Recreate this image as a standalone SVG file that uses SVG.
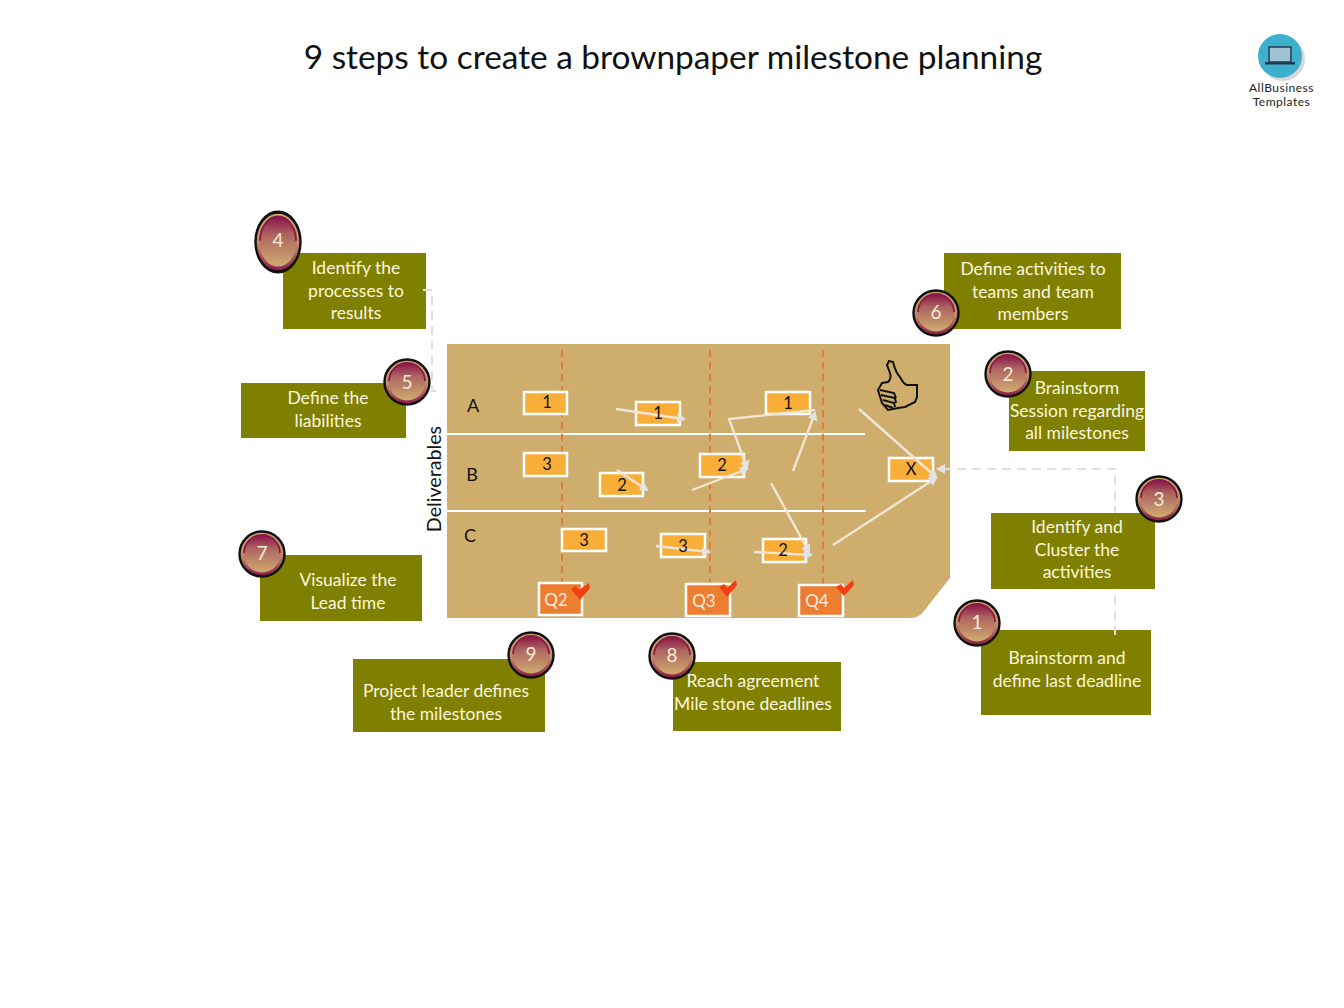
<svg xmlns="http://www.w3.org/2000/svg" width="1344" height="1008" viewBox="0 0 1344 1008">
<style>
text{font-family:Lato,"Noto Sans","Liberation Sans",sans-serif}
.t{font-size:17.5px;fill:#fbf6df;text-anchor:middle}
.box{fill:#808000}
.n{font-size:19px;fill:#f5ecd8;text-anchor:middle}
.o{fill:#f9ae38;stroke:#fff;stroke-width:2.500}
.q{fill:#ed7d31;stroke:#fff;stroke-width:2.500}
.k{font-size:16.5px;fill:#111;text-anchor:middle}
.qt{font-size:17px;fill:#fbeee0;text-anchor:middle}
.l{font-size:18px;fill:#111;text-anchor:middle}
.arc{fill:none;stroke:#8a1748;stroke-width:1.8}
.v{stroke:#db7f3f;stroke-width:2;stroke-dasharray:7 5;fill:none}
.w{stroke:#fff;stroke-width:2;fill:none}
.a{stroke:#f0e6d6;stroke-width:2.400;fill:none;marker-end:url(#ah)}
.d{stroke:#dfdfe2;stroke-width:2;stroke-dasharray:9 6;fill:none}
.c{fill:#f0400f}
</style>
<defs>
<linearGradient id="g" x1="0" y1="0" x2="0" y2="1">
<stop offset="0" stop-color="#8a1748"/><stop offset=".35" stop-color="#ad6460"/><stop offset="1" stop-color="#d0ac70"/>
</linearGradient>
<linearGradient id="r" x1="0" y1="0" x2="0" y2="1">
<stop offset="0" stop-color="#d0ac70"/><stop offset=".55" stop-color="#c08a68"/><stop offset="1" stop-color="#8a1748"/>
</linearGradient>
<marker id="ah" markerWidth="10" markerHeight="10" refX="7" refY="5" orient="auto" markerUnits="userSpaceOnUse"><path d="M0 0L9 5L0 10z" fill="#e3e3e6"/></marker>
<g id="badge">
<circle r="22.500" fill="url(#r)" stroke="#111" stroke-width="2.400"/>
<circle r="18.500" fill="url(#g)"/>
<path class="arc" d="M-18 -1A18 18 0 0 1 18 -1"/>
</g>
</defs>
<rect width="1344" height="1008" fill="#fff"/>
<text x="673" y="69" font-size="33.400" text-anchor="middle" fill="#111">9 steps to create a brownpaper milestone planning</text>

<g id="logo">
<circle cx="1283" cy="59" r="22" fill="#d5d8da"/>
<circle cx="1280" cy="56" r="22" fill="#3fb0cc"/>
<rect x="1269" y="47" width="22" height="15" fill="#9fc3d0" stroke="#1d3b4f" stroke-width="1.500"/>
<rect x="1265" y="62" width="30" height="2.500" fill="#1d3b4f"/>
<text x="1281.500" y="91.500" font-size="12" letter-spacing=".5" text-anchor="middle" fill="#222">AllBusiness</text>
<text x="1281.500" y="106" font-size="12" letter-spacing=".5" text-anchor="middle" fill="#222">Templates</text>
</g>

<g id="board">
<path d="M447 344H950V578L924 611Q919 618 911 618H447Z" fill="#cfae6d"/>
<path class="w" d="M447 434H865M447 511H866"/>
<path class="v" d="M562 350V583M710 350V585M823 350V585"/>
<text class="l" x="473" y="412">A</text>
<text class="l" x="472" y="481">B</text>
<text class="l" x="470" y="542">C</text>
<text class="l" style="font-size:19.700px" transform="translate(441 479) rotate(-90)">Deliverables</text>
</g>

<g id="thumb" fill="none" stroke="#111" stroke-width="2">
<path d="M889 361L893 362C895 370 897 374 900 377C902 381 904 384 907 385L917 385L917 397L915 402L905 407L898 408L888 410L882 403L878 390L882 383L888 382C891 379 891 376 890 373L887 365Z"/>
<path d="M880 390L894 393L896 398M881 395L895 398L896 403M883 400L894 403L895 407M885 405L893 408"/>
</g>

<g id="n-a1"><rect class="o" x="524" y="392" width="43" height="22"/></g>
<g id="n-a2"><rect class="o" x="636" y="402" width="44" height="23"/></g>
<g id="n-a3"><rect class="o" x="766" y="392" width="44" height="22"/></g>
<g id="n-b1"><rect class="o" x="524" y="453" width="43" height="23"/></g>
<g id="n-b2"><rect class="o" x="600" y="473" width="43" height="23"/></g>
<g id="n-b3"><rect class="o" x="700" y="454" width="44" height="23"/></g>
<g id="n-x"><rect class="o" x="889" y="458" width="44" height="23"/></g>
<g id="n-c1"><rect class="o" x="562" y="529" width="44" height="22"/></g>
<g id="n-c2"><rect class="o" x="661" y="534" width="44" height="23"/></g>
<g id="n-c3"><rect class="o" x="763" y="539" width="43" height="23"/></g>

<g id="step4"><rect class="box" x="283" y="253" width="143" height="76"/><text class="t" x="356" y="274">Identify the</text><text class="t" x="356" y="297">processes to</text><text class="t" x="356" y="319">results</text><g transform="translate(278 242) scale(1 1.330)"><use href="#badge"/></g><text class="n" x="278" y="247">4</text></g>
<g id="step1"><rect class="box" x="981" y="630" width="170" height="85"/><text class="t" x="1067" y="664">Brainstorm and</text><text class="t" x="1067" y="687">define last deadline</text><use href="#badge" x="977" y="623"/><text class="n" x="977" y="629">1</text></g>

<g id="conn">
<path class="d" d="M423 290H432V391H436"/>
<path class="d" d="M1115 635V469H938" marker-end="url(#ah)"/>
<path class="a" d="M616 409L684 419"/>
<path class="a" d="M617 470L647 490"/>
<path class="a" d="M692 490L747 469"/>
<path class="a" d="M815 410L729 419L747 468"/>
<path class="a" d="M793 471L815 413"/>
<path class="a" d="M656 546L709 552"/>
<path class="a" d="M754 552L811 555"/>
<path class="a" d="M771 483L809 552"/>
<path class="a" d="M859 409L936 477"/>
<path class="a" d="M833 545L936 478"/>
</g>

<g id="box-labels">
<text class="k" x="547" y="408">1</text>
<text class="k" x="658" y="419">1</text>
<text class="k" x="788" y="409">1</text>
<text class="k" x="547" y="470">3</text>
<text class="k" x="622" y="491">2</text>
<text class="k" x="722" y="471">2</text>
<text class="k" x="911" y="475">X</text>
<text class="k" x="584" y="546">3</text>
<text class="k" x="683" y="552">3</text>
<text class="k" x="783" y="556">2</text>
</g>

<g id="q2"><rect class="q" x="539" y="583" width="43" height="32"/><text class="qt" x="556" y="606">Q2</text><path class="c" d="M571 589L576 586L579 590L589 583L590 588L580 600Z"/></g>
<g id="q3"><rect class="q" x="686" y="584" width="44" height="32"/><text class="qt" x="704" y="607">Q3</text><path class="c" d="M719 587L724 584L727 588L736 580L737 585L727 597Z"/></g>
<g id="q4"><rect class="q" x="799" y="585" width="44" height="31"/><text class="qt" x="817" y="607">Q4</text><path class="c" d="M836 587L841 584L844 588L853 580L854 585L844 596Z"/></g>

<g id="step5"><rect class="box" x="241" y="383" width="165" height="55"/><text class="t" x="328" y="404">Define the</text><text class="t" x="328" y="427">liabilities</text><use href="#badge" x="407" y="382"/><text class="n" x="407" y="389">5</text></g>
<g id="step6"><rect class="box" x="944" y="253" width="177" height="76"/><text class="t" x="1033" y="275">Define activities to</text><text class="t" x="1033" y="298">teams and team</text><text class="t" x="1033" y="320">members</text><use href="#badge" x="936" y="313"/><text class="n" x="936" y="319">6</text></g>
<g id="step2"><rect class="box" x="1009" y="371" width="136" height="80"/><text class="t" x="1077" y="394">Brainstorm</text><text class="t" x="1077" y="417">Session regarding</text><text class="t" x="1077" y="439">all milestones</text><use href="#badge" x="1008" y="374"/><text class="n" x="1008" y="381">2</text></g>
<g id="step3"><rect class="box" x="991" y="513" width="164" height="76"/><text class="t" x="1077" y="533">Identify and</text><text class="t" x="1077" y="556">Cluster the</text><text class="t" x="1077" y="578">activities</text><use href="#badge" x="1159" y="499"/><text class="n" x="1159" y="506">3</text></g>
<g id="step7"><rect class="box" x="260" y="555" width="162" height="66"/><text class="t" x="348" y="586">Visualize the</text><text class="t" x="348" y="609">Lead time</text><use href="#badge" x="262" y="554"/><text class="n" x="262" y="560">7</text></g>
<g id="step9"><rect class="box" x="353" y="659" width="192" height="73"/><text class="t" x="446" y="697">Project leader defines</text><text class="t" x="446" y="720">the milestones</text><use href="#badge" x="531" y="655"/><text class="n" x="531" y="661">9</text></g>
<g id="step8"><rect class="box" x="673" y="662" width="168" height="69"/><text class="t" x="753" y="687">Reach agreement</text><text class="t" x="753" y="710">Mile stone deadlines</text><use href="#badge" x="672" y="656"/><text class="n" x="672" y="662">8</text></g>
</svg>
